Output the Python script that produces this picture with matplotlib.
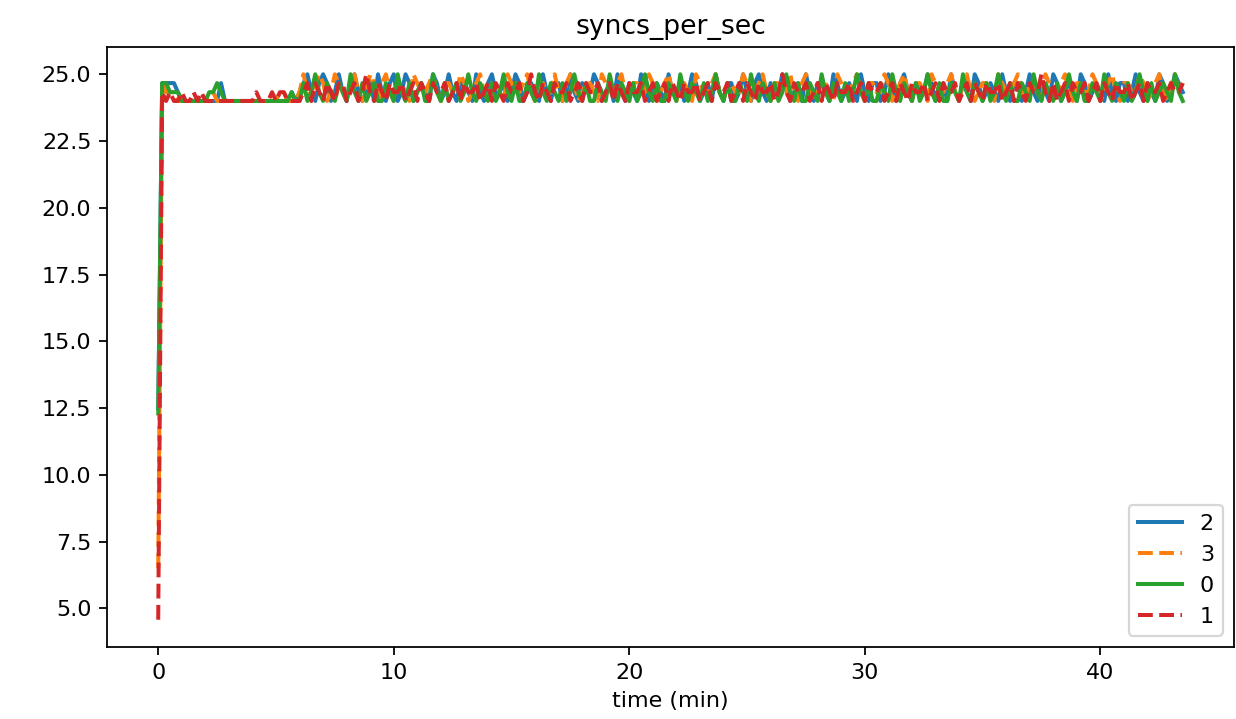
import matplotlib
matplotlib.use("Agg")
import matplotlib.pyplot as plt
import numpy as np

# one sample every 10 s, 0 .. 43.5 min
time_min = np.arange(262) / 6.0

node_2 = [
    12.5, 24.67, 24.67, 24.67, 24.67, 24.33, 24, 24, 24, 24, 24, 24, 24,
    24, 24, 24, 24.67, 24, 24, 24, 24, 24, 24, 24, 24, 24, 24, 24, 24, 24,
    24, 24, 24, 24, 24.33, 24, 24.33,
    24.67, 25, 24.33, 24, 24.67, 25, 24.67, 24, 24.33, 25, 24.33, 24, 24.67, 25, 24.33,
    24, 24.33, 24.67, 24, 25, 24.33, 24, 24.67, 25, 24, 24.33, 25, 24.67, 24, 24.33,
    24.67, 24.33, 24, 25, 24.67, 24, 24.33, 25, 24.33, 24, 24.67, 24.67, 24.33, 24, 25,
    24.33, 24, 24.67, 25, 24.33, 24.33, 24.67, 24, 24.33, 25, 24.67, 24, 24.33, 24.67, 24.33,
    24, 25, 24.33, 24, 24.67, 24.67, 24, 24.33, 25, 24.33, 24, 24.67, 24.33, 24.33, 25,
    24.67, 24, 24.33, 24.67, 24, 25, 24.33, 24, 24.67, 24.33, 24, 25, 24.67, 24, 24.33,
    24.67, 24.33, 24, 25, 24.33, 24.33, 24.67, 24, 24.33, 25, 24.67, 24, 24.33, 24.67, 24,
    25, 24.33, 24, 24.67, 24.67, 24, 24.33, 25, 24.33, 24, 24.67, 25, 24.33, 24, 24.67,
    24.33, 24.33, 25, 24.67, 24, 24.33, 24.67, 24, 25, 24.33, 24, 24.67, 24.67, 24.33, 24,
    25, 24.67, 24, 24.33, 24.67, 24.33, 24, 25, 24.33, 24, 24.67, 24.67, 24, 24.33, 25,
    24.33, 24, 24.67, 25, 24.33, 24, 24.67, 24.33, 24.33, 25, 24.67, 24, 24.33, 24.67, 24,
    25, 24.33, 24, 24.67, 24.33, 24, 25, 24.67, 24, 24.33, 24.67, 24.33, 24, 25, 24.33,
    24, 24.67, 24.67, 24, 24.33, 25, 24.33, 24, 24.67, 24.33, 24, 25, 24.67, 24, 24.33,
    24.67, 24.33, 24, 25, 24.67, 24, 24.33, 24.67, 24.33, 24, 25, 24.33, 24, 24.67, 24.67,
    24, 24.33, 25, 24.33, 24, 24.67, 24.33, 24, 25, 24.67, 24, 24.33, 25, 24.67, 24.33,
]

node_3 = [
    6.5, 24.67, 24.33, 24.33, 24.33, 24, 24, 24, 24, 24, 24, 24, 24,
    24.33, 24.33, 24, 24, 24, 24, 24, 24, 24, 24, 24, 24, 24, 24, 24, 24,
    24, 24, 24.33, 24.33, 24, 24, 24, 24.33,
    25, 24.33, 24, 24.67, 25, 24.67, 24, 24.33, 25, 24.67, 24.33, 24, 24.67, 25, 24.33,
    24, 24.33, 25, 24.67, 24, 24.67, 25, 24.33, 24, 24.67, 24.67, 24.33, 24, 25, 24.67,
    24.33, 24.33, 24.67, 25, 24.33, 24, 24.67, 24.67, 24.33, 24.33, 25, 24.67, 24, 24.33, 24.67,
    25, 24.33, 24, 24.67, 24.67, 24.33, 24, 25, 24.67, 24.33, 24.33, 24.67, 25, 24.33, 24,
    24.67, 24.67, 24.33, 24.33, 25, 24.33, 24, 24.67, 25, 24.67, 24, 24.33, 24.67, 24.67, 24.33,
    24, 25, 24.67, 24.33, 24.33, 24.67, 25, 24.33, 24, 24.67, 24.67, 24.33, 24.33, 25, 24.67,
    24, 24.33, 24.67, 25, 24.33, 24, 24.67, 24.67, 24.33, 24, 25, 24.67, 24.33, 24.33, 24.67,
    25, 24.33, 24, 24.67, 24.67, 24.33, 24.33, 25, 24.67, 24, 24.33, 24.67, 25, 24.33, 24,
    24.67, 24.67, 24.33, 24.33, 25, 24.33, 24, 24.67, 25, 24.67, 24, 24.33, 24.67, 24.67, 24.33,
    24, 25, 24.67, 24.33, 24.33, 24.67, 25, 24.33, 24, 24.67, 24.67, 24.33, 24.33, 25, 24.67,
    24, 24.33, 24.67, 25, 24.33, 24, 24.67, 24.67, 24.33, 24, 25, 24.67, 24.33, 24.33, 24.67,
    25, 24.33, 24, 24.67, 25, 24.33, 24, 24.33, 24.67, 24.67, 24.33, 24, 25, 24.67, 24.33,
    24.33, 24.67, 25, 24.33, 24, 24.67, 24.67, 24.33, 24, 25, 24.67, 24.33, 24.33, 24.67, 25,
    24.33, 24, 24.67, 24.67, 24.33, 24.33, 25, 24.67, 24, 24.33, 24.67, 25, 24.33, 24, 24.67,
    24.67, 24.33, 24.33, 25, 24.67, 24, 24.33, 24.67, 25, 24.33, 24, 24.67, 25, 24.33, 24.67,
]

node_0 = [
    12.3, 24.67, 24.67, 24.33, 24.33, 24.33, 24, 24, 24, 24, 24, 24, 24,
    24.33, 24.33, 24.67, 24.33, 24, 24, 24, 24, 24, 24, 24, 24, 24, 24, 24,
    24, 24, 24, 24, 24, 24, 24.33, 24, 24,
    24.67, 24, 24.33, 25, 24.33, 24, 24.67, 24.33, 24, 24.67, 24.33, 24, 25, 24.33, 24,
    24.67, 24, 24.33, 24.67, 24, 24, 24.67, 24.33, 24, 25, 24.33, 24, 24.67, 24, 24.33,
    24.67, 24, 24, 25, 24.33, 24, 24.67, 24, 24.33, 24.67, 24, 24.33, 25, 24.33, 24,
    24.67, 24.33, 24, 24.67, 24, 24.33, 25, 24.33, 24, 24.67, 24, 24, 24.67, 24.33, 24,
    25, 24.33, 24, 24.67, 24.33, 24, 24.67, 24, 24.33, 25, 24.33, 24, 24.67, 24, 24,
    24.67, 24.33, 24, 25, 24.33, 24, 24.67, 24.33, 24, 24.67, 24, 24.33, 25, 24.33, 24,
    24.67, 24, 24, 24.67, 24.33, 24, 25, 24.33, 24, 24.67, 24.33, 24, 24.67, 24, 24.33,
    25, 24.33, 24, 24.67, 24, 24, 24.67, 24.33, 24, 25, 24.33, 24, 24.67, 24.33, 24,
    24.67, 24, 24.33, 25, 24.33, 24, 24.67, 24, 24, 24.67, 24.33, 24, 25, 24.33, 24,
    24.67, 24.33, 24, 24.67, 24, 24.33, 25, 24.33, 24, 24.67, 24, 24, 24.67, 24.33, 24,
    25, 24.33, 24, 24.67, 24.33, 24, 24.67, 24, 24.33, 25, 24.33, 24, 24.67, 24, 24,
    24.67, 24.33, 24, 25, 24.33, 24, 24.67, 24.33, 24, 24.67, 24, 24.33, 25, 24.33, 24,
    24.67, 24, 24, 24.67, 24.33, 24, 25, 24.33, 24, 24.67, 24.33, 24, 24.67, 24, 24.33,
    25, 24.33, 24, 24.67, 24, 24, 24.67, 24.33, 24, 25, 24.33, 24, 24.67, 24.33, 24,
    24.67, 24, 24.33, 25, 24.33, 24, 24.67, 24, 24.33, 24.67, 24.33, 24, 25, 24.33, 24,
]

node_1 = [
    4.57, 24.33, 24, 24.33, 24, 24, 24.33, 24, 24, 24.33, 24, 24.33, 24,
    24, 24, 24, 24, 24, 24, 24, 24, 24, 24, 24, 24, 24.33, 24, 24, 24,
    24.33, 24, 24.33, 24.33, 24, 24, 24, 24,
    24.33, 24.67, 24, 24.67, 24.33, 24, 24.67, 24.33, 24, 24.67, 24.67, 24, 24.33, 24.67, 24,
    24.33, 25, 24.33, 24, 24.67, 24.33, 24, 24.67, 24.33, 24.33, 24.67, 24, 24.33, 24.67, 24,
    24.67, 24.33, 24, 24.67, 24.33, 24.33, 24.67, 24, 24.33, 24.67, 24, 24.67, 24.33, 24.33, 24.67,
    24, 24.33, 24.67, 24, 24.67, 24.33, 24, 24.67, 24.33, 24.33, 24.67, 24, 24.33, 25, 24.33,
    24, 24.67, 24.33, 24, 24.67, 24.33, 24.33, 24.67, 24, 24.33, 24.67, 24, 24.67, 24.33, 24.33,
    24.67, 24, 24.33, 24.67, 24, 24.67, 24.33, 24, 24.67, 24.33, 24.33, 24.67, 24, 24.33, 24.67,
    24, 24.33, 24.67, 24, 24.67, 24.33, 24, 24.67, 24.33, 24.33, 24.67, 24, 24.33, 24.67, 24,
    24.67, 24.33, 24.33, 24.67, 24, 24.33, 24.67, 24, 24.67, 24.33, 24, 24.67, 24.33, 24.33, 24.67,
    24, 24.33, 25, 24.33, 24, 24.67, 24.33, 24.33, 24.67, 24, 24.33, 24.67, 24, 24.67, 24.33,
    24, 24.67, 24.33, 24.33, 24.67, 24, 24.33, 24.67, 24, 24.67, 24.33, 24.33, 24.67, 24, 24.33,
    24.67, 24, 24.67, 24.33, 24, 24.67, 24.33, 24.33, 24.67, 24, 24.33, 24.67, 24, 24.67, 24.33,
    24.33, 24.67, 24, 24.33, 24.67, 24, 24.67, 24.33, 24, 24.67, 24.33, 24.33, 24.67, 24, 24.33,
    24.67, 24, 24.67, 24.33, 24, 24.67, 24.33, 24.33, 25, 24.33, 24, 24.67, 24, 24.33, 24.67,
    24, 24.67, 24.33, 24.33, 24.67, 24, 24.33, 24.67, 24, 24.67, 24.33, 24, 24.67, 24.33, 24.33,
    24.67, 24, 24.33, 24.67, 24, 24.67, 24.33, 24.33, 24.67, 24, 24.33, 24.67, 24.33, 24.33, 24.67,
]

series = [("2", node_2, "-"), ("3", node_3, "--"), ("0", node_0, "-"), ("1", node_1, "--")]

fig = plt.figure(figsize=(1236 / 160, 719 / 160), dpi=160)
ax = fig.add_axes([107 / 1236, 1 - 647 / 719, (1234 - 107) / 1236, (647 - 47) / 719])

for i, (label, vals, ls) in enumerate(series):
    n = min(len(vals), len(time_min))
    ax.plot(time_min[:n], vals[:n], linestyle=ls, color=f"C{i}", label=label, linewidth=1.8)

ax.set_title("syncs_per_sec")
ax.set_xlabel("time (min)")
ax.legend(loc="lower right")

fig.savefig("out.png", dpi=160)
